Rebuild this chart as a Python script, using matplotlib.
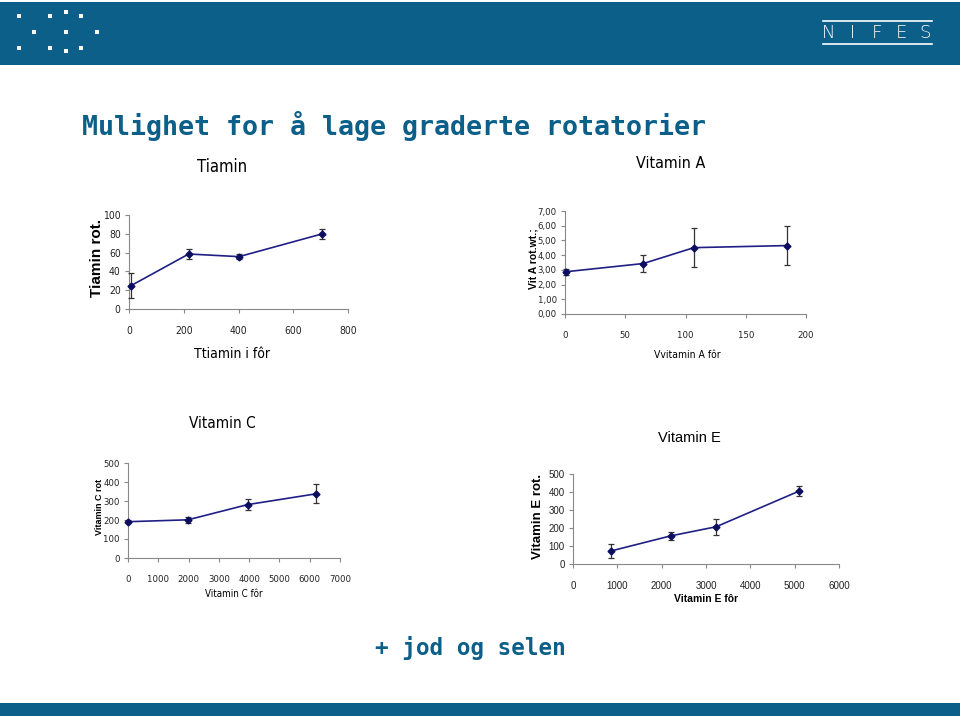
import numpy as np
import matplotlib
matplotlib.use('Agg')
import matplotlib.pyplot as plt
from matplotlib import font_manager
from matplotlib.patches import Rectangle
from matplotlib.lines import Line2D
from matplotlib.ticker import FuncFormatter

# ---- data ----
tia_x = [7, 218, 402, 704]
tia_y = [24.8, 58.5, 55.7, 79.8]
tia_err = [13.3, 5.0, 2.5, 5.3]

vita_x = [0.5, 65, 107, 184]
vita_y = [2.87, 3.43, 4.51, 4.65]
vita_err = [0.2, 0.55, 1.32, 1.33]

vitc_x = [0, 1980, 3950, 6220]
vitc_y = [191, 201, 281, 338]
vitc_err = [8, 15, 29, 50]

vite_x = [850, 2200, 3230, 5100]
vite_y = [72, 156, 207, 405]
vite_err = [37, 20, 45, 28]

# logo dots in the banner (pixels)
dots_x = [19, 50, 66, 81, 34, 66, 97, 19, 50, 66, 81]
dots_y = [16, 16, 12, 16, 32, 32, 32, 48, 48, 51, 48]

W, H = 960, 720
BLUE = '#0b5f88'
LINE = '#1f1f85'
MARK = '#0d0d60'

ARIAL = 'Liberation Sans'
# narrow font: condensed DejaVu if it is there
cond = [f for f in font_manager.fontManager.ttflist
        if f.name == 'DejaVu Sans' and f.stretch == 'condensed']
NARROW = dict(family='DejaVu Sans', stretch='condensed') if cond else dict(family='Liberation Sans')


def fx(x):
    return x / W


def fy(y):
    return 1 - y / H


def box(x0, y0, x1, y1):
    # pixel box -> axes rect
    return [fx(x0), fy(y1), (x1 - x0) / W, (y1 - y0) / H]


fig = plt.figure(figsize=(9.6, 7.2), dpi=100)
fig.patch.set_facecolor('white')

# ---- banner ----
fig.patches.append(Rectangle((0, fy(65)), 1, (65 - 2) / H, transform=fig.transFigure,
                             facecolor=BLUE, edgecolor='none'))
for dx, dy in zip(dots_x, dots_y):
    fig.patches.append(Rectangle((fx(dx - 2), fy(dy + 2)), 4 / W, 4 / H,
                                 transform=fig.transFigure, facecolor='white', edgecolor='none'))
for ly in (21, 44):
    fig.lines.append(Line2D([fx(823), fx(932)], [fy(ly), fy(ly)], transform=fig.transFigure,
                            color='white', lw=1.2))
for letter, lx in zip('NIFES', [829, 853, 877, 901, 925]):
    fig.text(fx(lx), fy(33), letter, color='white', fontsize=13, family='DejaVu Sans',
             fontweight='light', ha='center', va='center')

# bottom bar
fig.patches.append(Rectangle((0, fy(716)), 1, 13 / H, transform=fig.transFigure,
                             facecolor=BLUE, edgecolor='none'))

# ---- slide texts ----
fig.text(fx(82), fy(135), 'Mulighet for å lage graderte rotatorier', color=BLUE,
         fontsize=19.2, family='DejaVu Sans Mono', fontweight='bold', va='baseline')
fig.text(fx(375), fy(655), '+ jod og selen', color=BLUE,
         fontsize=16.3, family='DejaVu Sans Mono', fontweight='bold', va='baseline')


def panel(rect, x, y, err, xlim, ylim, xt, yt, tickfont, ticksize, yfmt=None):
    ax = fig.add_axes(rect)
    ax.errorbar(x, y, yerr=err, color=LINE, lw=1.2, marker='D', ms=3.5,
                mfc=MARK, mec=MARK, ecolor='#333333', elinewidth=0.9, capsize=2.5,
                capthick=0.9, clip_on=False, zorder=3)
    ax.set_xlim(*xlim)
    ax.set_ylim(*ylim)
    ax.set_xticks(xt)
    ax.set_yticks(yt)
    if yfmt:
        ax.yaxis.set_major_formatter(FuncFormatter(yfmt))
    for s in ('top', 'right'):
        ax.spines[s].set_visible(False)
    for s in ('left', 'bottom'):
        ax.spines[s].set_color('#888888')
        ax.spines[s].set_linewidth(0.8)
    ax.tick_params(axis='both', colors='#888888', length=3, width=0.8, direction='out',
                   labelcolor='#222222', labelsize=ticksize)
    ax.tick_params(axis='x', pad=9)
    ax.tick_params(axis='y', pad=3)
    for lab in ax.get_xticklabels() + ax.get_yticklabels():
        lab.set_family(tickfont['family'])
        if 'stretch' in tickfont:
            lab.set_stretch(tickfont['stretch'])
    ax.patch.set_alpha(0)
    return ax


# Tiamin
panel(box(129, 215, 348, 309), tia_x, tia_y, tia_err, (0, 800), (0, 100),
      range(0, 801, 200), range(0, 101, 20), NARROW, 7.5)
fig.text(fx(222), fy(167), 'Tiamin', fontsize=12, ha='center', va='center', **NARROW)
fig.text(fx(97), fy(258), 'Tiamin rot.', family=ARIAL, fontweight='bold', fontsize=11,
         rotation=90, ha='center', va='center')
fig.text(fx(232), fy(354), 'Ttiamin i fôr', fontsize=10, ha='center', va='center', **NARROW)

# Vitamin A
panel(box(565, 211, 806, 314), vita_x, vita_y, vita_err, (0, 200), (0, 7),
      range(0, 201, 50), range(0, 8), NARROW, 6.8,
      yfmt=lambda v, p: f'{v:.2f}'.replace('.', ','))
fig.text(fx(671), fy(163), 'Vitamin A', fontsize=11.5, ha='center', va='center', **NARROW)
fig.text(fx(533), fy(259), 'Vit A rot.wt.;', family=ARIAL, fontweight='bold', fontsize=7.5,
         rotation=90, ha='center', va='center')
fig.text(fx(687), fy(355), 'Vvitamin A fôr', fontsize=7.5, ha='center', va='center', **NARROW)

# Vitamin C
panel(box(128, 463, 340, 558), vitc_x, vitc_y, vitc_err, (0, 7000), (0, 500),
      range(0, 7001, 1000), range(0, 501, 100), NARROW, 6.8)
fig.text(fx(222), fy(424), 'Vitamin C', fontsize=11, ha='center', va='center', **NARROW)
fig.text(fx(100), fy(507), 'Vitamin C rot', family=ARIAL, fontweight='bold', fontsize=6.5,
         rotation=90, ha='center', va='center')
fig.text(fx(234), fy(594), 'Vitamin C fôr', fontsize=7, ha='center', va='center', **NARROW)

# Vitamin E
panel(box(573, 474, 839, 564), vite_x, vite_y, vite_err, (0, 6000), (0, 500),
      range(0, 6001, 1000), range(0, 501, 100), dict(family=ARIAL), 7)
fig.text(fx(689), fy(438), 'Vitamin E', family=ARIAL, fontsize=10.5, ha='center', va='center')
fig.text(fx(538), fy(516), 'Vitamin E rot.', family=ARIAL, fontweight='bold', fontsize=9.5,
         rotation=90, ha='center', va='center')
fig.text(fx(706), fy(599), 'Vitamin E fôr', family=ARIAL, fontweight='bold', fontsize=7.5,
         ha='center', va='center')

fig.savefig('out.png', dpi=100)
